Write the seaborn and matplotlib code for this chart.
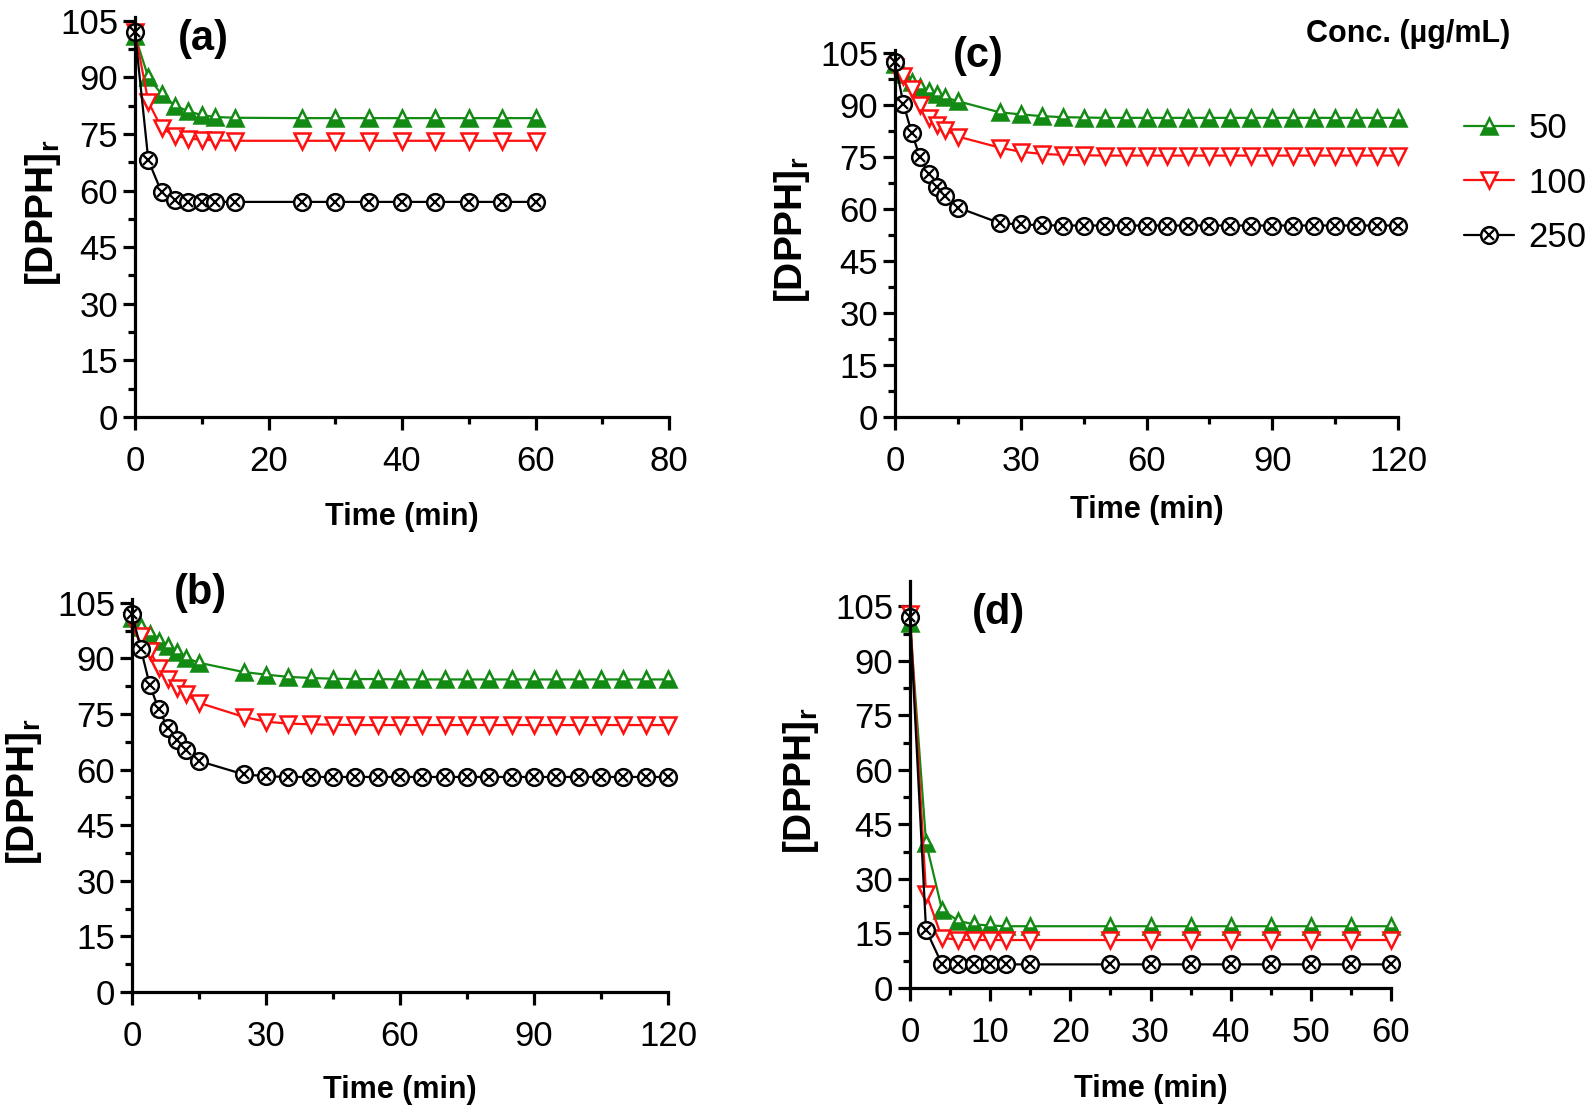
import numpy as np
import pandas as pd

import matplotlib
matplotlib.use('Agg')
import matplotlib.pyplot as plt
from matplotlib.lines import Line2D
from matplotlib.ticker import MultipleLocator
import seaborn as sns


# 시간 (min)
t_short = [0, 2, 4, 6, 8, 10, 12, 15, 25, 30, 35, 40, 45, 50, 55, 60]
t_long = [0, 2, 4, 6, 8, 10, 12, 15, 25, 30, 35, 40, 45, 50, 55, 60,
          65, 70, 75, 80, 85, 90, 95, 100, 105, 110, 115, 120]

conc_labels = ['50', '100', '250']

# (a)
a_50 = [101, 90, 85.5, 82.5, 81, 80, 79.5, 79.3, 79.2, 79.2, 79.2, 79.2, 79.2, 79.2, 79.2, 79.2]
a_100 = [102, 83.5, 76.5, 74.5, 73.8, 73.5, 73.3, 73.2, 73.2, 73.2, 73.2, 73.2, 73.2, 73.2, 73.2, 73.2]
a_250 = [102, 68, 59.5, 57.5, 57, 57, 57, 57, 57, 57, 57, 57, 57, 57, 57, 57]

# (b)
b_50 = [101, 98.5, 96.5, 94.8, 93.2, 91.6, 90.2, 88.8, 86.3, 85.6, 85.0, 84.7, 84.5, 84.4,
        84.4, 84.3, 84.3, 84.3, 84.3, 84.3, 84.3, 84.3, 84.3, 84.3, 84.3, 84.3, 84.3, 84.3]
b_100 = [100, 96, 92, 87.5, 84.3, 82, 80.3, 78, 74.2, 72.9, 72.4, 72.2, 72.1, 72,
         72, 72, 72, 72, 72, 72, 72, 72, 72, 72, 72, 72, 72, 72]
b_250 = [102, 92.4, 82.7, 76.2, 71.3, 68.1, 65.3, 62.3, 58.7, 58.2, 58, 58, 58, 58,
         58, 58, 58, 58, 58, 58, 58, 58, 58, 58, 58, 58, 58, 58]

# (c)
c_50 = [102, 99, 96.8, 95.2, 94.2, 93.2, 92.3, 91.2, 88, 87.4, 86.9, 86.6, 86.5, 86.4,
        86.4, 86.4, 86.4, 86.4, 86.4, 86.4, 86.4, 86.4, 86.4, 86.4, 86.4, 86.4, 86.4, 86.4]
c_100 = [101, 98.5, 94.7, 90, 86.5, 84.4, 83, 81, 77.8, 76.6, 76, 75.7, 75.6, 75.5,
         75.5, 75.5, 75.5, 75.5, 75.5, 75.5, 75.5, 75.5, 75.5, 75.5, 75.5, 75.5, 75.5, 75.5]
c_250 = [102.5, 90.5, 82, 75, 70.3, 66.5, 63.7, 60.5, 56, 55.6, 55.4, 55.3, 55.3, 55.3,
         55.3, 55.3, 55.3, 55.3, 55.3, 55.3, 55.3, 55.3, 55.3, 55.3, 55.3, 55.3, 55.3, 55.3]

# (d)
d_50 = [100.5, 40, 21.5, 18.5, 17.5, 17.2, 17, 17, 17, 17, 17, 17, 17, 17, 17, 17]
d_100 = [103, 26, 13.8, 13.3, 13.2, 13.2, 13.2, 13.2, 13.2, 13.2, 13.2, 13.2, 13.2, 13.2, 13.2, 13.2]
d_250 = [102, 16, 6.5, 6.5, 6.5, 6.5, 6.5, 6.5, 6.5, 6.5, 6.5, 6.5, 6.5, 6.5, 6.5, 6.5]

sns.set_style('ticks')
plt.rcParams['font.family'] = ['Liberation Sans', 'DejaVu Sans']
plt.rcParams['text.color'] = 'black'
plt.rcParams['axes.labelcolor'] = 'black'
plt.rcParams['xtick.color'] = 'black'
plt.rcParams['ytick.color'] = 'black'
plt.rcParams['axes.edgecolor'] = 'black'
plt.rcParams['mathtext.fontset'] = 'custom'
plt.rcParams['mathtext.bf'] = 'Liberation Sans:bold'
plt.rcParams['mathtext.rm'] = 'Liberation Sans'

GREEN = '#138a13'
RED = '#ff1010'
BLACK = '#000000'

W, H = 1594, 1116


def ax_rect(left, right, top, bottom):
    # 픽셀 좌표 -> figure 비율
    return [left / W, 1 - bottom / H, (right - left) / W, (bottom - top) / H]


# 패널 설정: (rect, 시간, 데이터, xlim, x major, x minor, ymax, label, label 위치, ylabel x)
panels = [
    (ax_rect(135, 669, 17, 417), t_short, (a_50, a_100, a_250), 80, 20, 10, 106, '(a)', (203, 39), -0.135),
    (ax_rect(895, 1398, 50, 417), t_long, (c_50, c_100, c_250), 120, 30, 15, 106, '(c)', (978, 56), -0.165),
    (ax_rect(132, 668, 599, 992), t_long, (b_50, b_100, b_250), 120, 30, 15, 106, '(b)', (200, 593), -0.164),
    (ax_rect(910, 1391, 581, 988), t_short, (d_50, d_100, d_250), 60, 10, 5, 112, '(d)', (998, 613), -0.184),
]

fig = plt.figure(figsize=(W / 100, H / 100), dpi=100)

ms = 12
line_kws = dict(linewidth=1.6, markersize=ms, markeredgewidth=1.8, clip_on=False)

for rect, t, ys, xmax, xmaj, xmin_, ymax, lab, lab_pos, ylx in panels:
    ax = fig.add_axes(rect)
    df = pd.DataFrame({'t': t, '50': ys[0], '100': ys[1], '250': ys[2]})

    # 50 µg/mL : 아래 반 채운 삼각형
    sns.lineplot(data=df, x='t', y='50', ax=ax, color=GREEN, marker='^',
                 fillstyle='bottom', markerfacecolor=GREEN, markerfacecoloralt='white',
                 markeredgecolor=GREEN, **line_kws)
    # 100 µg/mL : 빈 역삼각형
    sns.lineplot(data=df, x='t', y='100', ax=ax, color=RED, marker='v',
                 markerfacecolor='white', markeredgecolor=RED, **line_kws)
    # 250 µg/mL : 원 + x
    sns.lineplot(data=df, x='t', y='250', ax=ax, color=BLACK, marker='o',
                 markerfacecolor='white', markeredgecolor=BLACK, **line_kws)
    ax.plot(df['t'], df['250'], linestyle='none', marker='x', color=BLACK,
            markersize=ms * 0.62, markeredgewidth=1.6, clip_on=False)

    ax.set_xlim(0, xmax)
    ax.set_ylim(0, ymax)
    ax.xaxis.set_major_locator(MultipleLocator(xmaj))
    ax.xaxis.set_minor_locator(MultipleLocator(xmin_))
    ax.set_yticks(np.arange(0, 106, 15))
    ax.yaxis.set_minor_locator(MultipleLocator(7.5))

    sns.despine(ax=ax)
    for s in ['left', 'bottom']:
        ax.spines[s].set_linewidth(2.3)
    ax.tick_params(which='major', length=9, width=2.3, labelsize=25, pad=3, direction='out')
    ax.tick_params(which='minor', length=5, width=2.3, direction='out')
    ax.tick_params(axis='x', which='major', pad=11)

    ax.set_xlabel('Time (min)', fontsize=22, fontweight='bold')
    ax.set_ylabel('[DPPH]$_\\mathbf{r}$', fontsize=28, fontweight='bold')
    ax.xaxis.set_label_coords(0.5, -0.212)
    ax.yaxis.set_label_coords(ylx, 0.51)

    fig.text(lab_pos[0] / W, 1 - lab_pos[1] / H, lab, fontsize=30, fontweight='bold',
             ha='center', va='center')

# 범례
h50 = Line2D([], [], color=GREEN, marker='^', fillstyle='bottom', markerfacecolor=GREEN,
             markerfacecoloralt='white', markeredgecolor=GREEN, linewidth=1.6,
             markersize=ms, markeredgewidth=1.8)
h100 = Line2D([], [], color=RED, marker='v', markerfacecolor='white', markeredgecolor=RED,
              linewidth=1.6, markersize=ms, markeredgewidth=1.8)
h250a = Line2D([], [], color=BLACK, marker='o', markerfacecolor='white', markeredgecolor=BLACK,
               linewidth=1.6, markersize=ms, markeredgewidth=1.8)
h250b = Line2D([], [], linestyle='none', marker='x', color=BLACK, markersize=ms * 0.62,
               markeredgewidth=1.6)

fig.legend([h50, h100, (h250a, h250b)], conc_labels, loc='upper left',
           bbox_to_anchor=(1464 / W, 1 - 112 / H), frameon=False, fontsize=25,
           borderpad=0, borderaxespad=0, labelspacing=0.62, handlelength=1.45,
           handletextpad=0.4)

fig.text(1408 / W, 1 - 34 / H, 'Conc. (µg/mL)', fontsize=22, fontweight='bold',
         ha='center', va='center')

fig.savefig('out.png', dpi=100)
